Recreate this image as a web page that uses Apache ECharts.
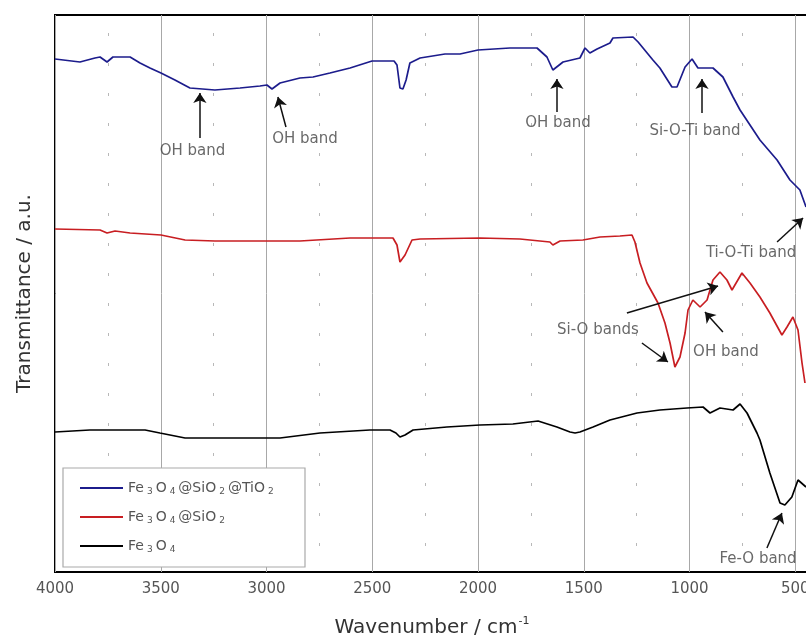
<!DOCTYPE html>
<html><head><meta charset="utf-8">
<script src="https://cdn.jsdelivr.net/npm/echarts@6/dist/echarts.min.js"></script>
<style>html,body{margin:0;padding:0;background:#fff}#c{width:806px;height:639px}</style>
</head><body><div id="c"></div>
<script>
// ---- data (wavenumber in cm^-1, transmittance in arbitrary units) ----
const seriesNames = ['Fe3O4@SiO2@TiO2', 'Fe3O4@SiO2', 'Fe3O4'];
const xTicks = [4000, 3500, 3000, 2500, 2000, 1500, 1000, 500];

const wnBlue = [4000,3882,3811,3787,3754,3726,3645,3598,3551,3499,3433,3362,3244,3125,3031,2998,2974,2936,2842,2780,2700,2605,2501,2397,2383,2369,2355,2340,2322,2274,2156,2085,2000,1849,1721,1674,1646,1598,1518,1494,1471,1437,1376,1362,1267,1243,1173,1140,1083,1059,1021,988,960,889,842,794,761,667,586,525,478,449];
const tBlue  = [513,510,514,515,510,515,515,509,504,499,492,484,482,484,486,487,483,489,494,495,499,504,511,511,507,484,483,492,509,514,518,518,522,524,524,515,502,510,514,524,519,523,529,534,535,530,512,504,485,485,505,513,504,504,495,475,462,432,412,392,382,365];

const wnRed = [4000,3787,3754,3716,3645,3499,3385,3244,3007,2842,2605,2402,2383,2369,2345,2312,2274,1991,1802,1660,1646,1612,1504,1423,1329,1272,1258,1234,1201,1149,1116,1092,1069,1045,1021,1007,984,950,917,889,856,823,799,752,714,667,620,563,539,511,487,468,454];
const tRed  = [343,342,339,341,339,337,332,331,331,331,334,334,327,310,317,332,333,334,333,330,327,331,332,335,336,337,330,309,289,269,249,229,205,215,239,262,272,265,272,292,300,292,282,299,289,275,259,237,245,255,242,209,189];

const wnBlack = [4000,3835,3574,3504,3385,3244,3007,2936,2747,2511,2416,2388,2369,2345,2307,2147,1991,1835,1716,1627,1565,1541,1518,1456,1376,1248,1140,1012,936,903,856,794,761,728,681,667,620,572,549,516,487,449];
const tBlack  = [140,142,142,139,134,134,134,134,139,142,142,139,135,137,142,145,147,148,151,145,140,139,140,145,152,159,162,164,165,159,164,162,168,159,139,132,99,69,67,75,92,85];

const annText = ['OH band','OH band','OH band','Si-O-Ti band','Ti-O-Ti band','Si-O bands','OH band','Fe-O band'];
const annX = [3350,2818,1622,974,709,1433,828,676];
const annY = [421,433,449,441,319,242,220,13];

// arrows: tail x, tail y, head x, head y
const arrowTailX = [3315,2908,1627,941,586,1296,1225,842,634];
const arrowTailY = [434,445,460,459,330,259,229,240,24];
const arrowHeadX = [3315,2946,1627,941,463,865,1102,927,563];
const arrowHeadY = [479,475,493,493,354,286,210,260,59];

const colors = ['#1c1c8c', '#c81e22', '#000000'];
// ---------------------------------------------------------------------

const zip = (a, b) => a.map((v, i) => [v, b[i]]);
const chem = n => n.match(/\d|\D+/g).map(t => /\d/.test(t) ? '{s|' + t + '}' : '{n|' + t + '}').join('');
const FONT = 'DejaVu Sans';

const chart = echarts.init(document.getElementById('c'), null, {renderer: 'canvas'});
const lineSeries = [[wnBlue, tBlue], [wnRed, tRed], [wnBlack, tBlack]].map((p, i) => ({
  name: seriesNames[i], type: 'line', data: zip(p[0], p[1]),
  symbol: 'none', showSymbol: false, smooth: false, z: 3,
  lineStyle: {color: colors[i], width: 1.7}, itemStyle: {color: colors[i]}
}));

chart.setOption({
  animation: false,
  backgroundColor: '#fff',
  grid: {left: 55, right: -95, top: 15, bottom: 67, show: true, borderColor: '#000', borderWidth: 2,
    outerBoundsMode: 'none', containLabel: false},
  xAxis: {
    type: 'value', min: 0, max: 4000, interval: 500, inverse: true,
    axisLine: {show: false}, axisTick: {show: false},
    axisLabel: {color: '#555', fontSize: 15, fontFamily: FONT, margin: 10,
      formatter: v => xTicks.indexOf(v) >= 0 ? String(v) : ''},
    splitLine: {show: true, lineStyle: {color: '#a8a8a8', width: 1}},
    minorTick: {show: false, splitNumber: 2},
    minorSplitLine: {show: true, lineStyle: {color: '#b8b8b8', width: 1, type: [3, 27], dashOffset: 12}},
    name: '{t|Wavenumber / cm}{sup|-1}', nameLocation: 'middle', nameGap: 44,
    nameTextStyle: {padding: [0, 92, 0, 0], rich: {
      t: {fontSize: 20, color: '#333', fontFamily: FONT},
      sup: {fontSize: 11, color: '#333', fontFamily: FONT, verticalAlign: 'top', padding: [0, 0, 12, 1]}
    }}
  },
  yAxis: {
    type: 'value', min: 0, max: 557,
    axisLine: {show: false}, axisTick: {show: false}, axisLabel: {show: false}, splitLine: {show: false},
    name: 'Transmittance / a.u.', nameLocation: 'middle', nameGap: 20,
    nameTextStyle: {fontSize: 20, color: '#333', fontFamily: FONT}
  },
  legend: {
    data: seriesNames, orient: 'vertical', left: 80, top: 481, padding: 0,
    icon: 'rect', itemWidth: 43, itemHeight: 2, itemGap: 13.5, z: 10,
    formatter: chem,
    textStyle: {color: '#555', fontFamily: FONT, rich: {
      n: {fontSize: 14, color: '#555', fontFamily: FONT},
      s: {fontSize: 9, color: '#555', fontFamily: FONT, padding: [8, 3, 0, 3]}
    }}
  },
  graphic: [{type: 'rect', z: 5, shape: {x: 63, y: 468, width: 242, height: 99},
    style: {fill: '#fff', stroke: '#aaaaaa', lineWidth: 1.2}}],
  series: lineSeries.concat([
    {
      type: 'lines', coordinateSystem: 'cartesian2d', z: 4, silent: true,
      symbol: ['none', 'arrow'], symbolSize: [0, 10],
      lineStyle: {color: '#111', width: 1.5, opacity: 1, curveness: 0},
      data: arrowTailX.map((x, i) => ({coords: [[x, arrowTailY[i]], [arrowHeadX[i], arrowHeadY[i]]]}))
    },
    {
      type: 'scatter', z: 4, silent: true, symbolSize: 0,
      data: annText.map((t, i) => ({name: t, value: [annX[i], annY[i]]})),
      label: {show: true, position: 'inside', formatter: '{b}', color: '#444', fontSize: 15, fontFamily: FONT}
    }
  ])
});
</script></body></html>
